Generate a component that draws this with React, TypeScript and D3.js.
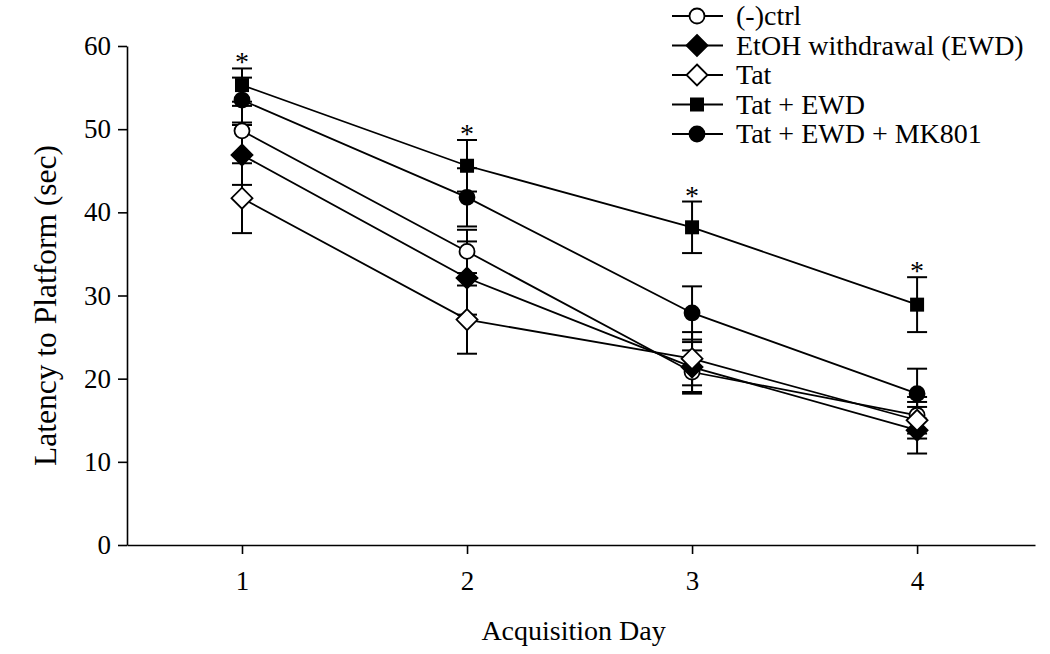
import React, { useEffect, useRef } from "react";
import * as d3 from "d3";

const days = [1, 2, 3, 4];
const dayTicks = ["1", "2", "3", "4"];
const yTicks = [0, 10, 20, 30, 40, 50, 60];

const ctrlMean = [49.8, 35.3, 20.8, 15.6];
const ctrlErr = [3.0, 2.6, 2.6, 2.2];
const ewdMean = [46.9, 32.1, 21.4, 13.8];
const ewdErr = [3.6, 4.4, 3.0, 2.8];
const tatMean = [41.7, 27.1, 22.4, 15.0];
const tatErr = [4.2, 4.1, 3.2, 2.2];
const tatEwdMean = [55.3, 45.6, 38.2, 28.9];
const tatEwdErr = [2.0, 3.1, 3.1, 3.3];
const mkMean = [53.5, 41.8, 27.9, 18.2];
const mkErr = [2.7, 3.5, 3.2, 3.0];

const significantDays = [1, 2, 3, 4];

type Marker = "openCircle" | "filledDiamond" | "openDiamond" | "filledSquare" | "filledCircle";

const seriesNames = ["(-)ctrl", "EtOH withdrawal (EWD)", "Tat", "Tat + EWD", "Tat + EWD + MK801"];
const seriesMarkers: Marker[] = ["openCircle", "filledDiamond", "openDiamond", "filledSquare", "filledCircle"];
const seriesMeans = [ctrlMean, ewdMean, tatMean, tatEwdMean, mkMean];
const seriesErrs = [ctrlErr, ewdErr, tatErr, tatEwdErr, mkErr];

const FONT = "'Liberation Serif', 'Times New Roman', serif";

function drawMarker(g: any, type: Marker, cx: number, cy: number) {
  if (type === "openCircle" || type === "filledCircle") {
    g.append("circle")
      .attr("cx", cx).attr("cy", cy).attr("r", 7.5)
      .attr("fill", type === "openCircle" ? "#fff" : "#000")
      .attr("stroke", "#000").attr("stroke-width", 1.8);
  } else if (type === "filledSquare") {
    g.append("rect")
      .attr("x", cx - 7).attr("y", cy - 7).attr("width", 14).attr("height", 14)
      .attr("fill", "#000");
  } else {
    const s = 10.5;
    g.append("path")
      .attr("d", `M${cx},${cy - s}L${cx + s},${cy}L${cx},${cy + s}L${cx - s},${cy}Z`)
      .attr("fill", type === "openDiamond" ? "#fff" : "#000")
      .attr("stroke", "#000").attr("stroke-width", 1.8).attr("stroke-linejoin", "miter");
  }
}

export default function App() {
  const ref = useRef<SVGSVGElement>(null);

  useEffect(() => {
    const svg = d3.select(ref.current);
    svg.selectAll("*").remove();

    const x = d3.scaleLinear().domain([0.489, 4.524]).range([127, 1035]);
    const y = d3.scaleLinear().domain([0, 60]).range([545, 46]);

    // axes
    const yAxis = d3.axisLeft(y).tickValues(yTicks).tickSize(9).tickSizeOuter(0).tickPadding(7);
    const gy = svg.append("g").attr("transform", `translate(${x.range()[0]},0)`).call(yAxis);
    const xAxis = d3.axisBottom(x).tickValues(days).tickFormat((d, i) => dayTicks[i]).tickSize(9).tickSizeOuter(0).tickPadding(17);
    const gx = svg.append("g").attr("transform", `translate(0,${y(0)})`).call(xAxis);
    [gx, gy].forEach((g) => {
      g.selectAll("path,line").attr("stroke", "#000").attr("stroke-width", 1.6);
      g.selectAll("text").attr("font-family", FONT).attr("font-size", 27).attr("fill", "#000");
    });

    // axis titles
    svg.append("text")
      .attr("x", (x(1) + x(4)) / 2 - 6).attr("y", 640)
      .attr("text-anchor", "middle").attr("font-family", FONT).attr("font-size", 28)
      .text("Acquisition Day");
    svg.append("text")
      .attr("transform", `translate(56,${(y(0) + y(60)) / 2 + 10}) rotate(-90)`)
      .attr("text-anchor", "middle").attr("font-family", FONT).attr("font-size", 31.5)
      .text("Latency to Platform (sec)");

    const plot = svg.append("g");
    const line = d3.line<number>().x((_, i) => x(days[i])).y((d) => y(d));

    // lines
    seriesMeans.forEach((m) => {
      plot.append("path").attr("d", line(m) as string)
        .attr("fill", "none").attr("stroke", "#000").attr("stroke-width", 1.8);
    });

    // error bars
    const capW = 10;
    seriesMeans.forEach((m, si) => {
      m.forEach((v, i) => {
        const e = seriesErrs[si][i];
        const cx = x(days[i]);
        const top = y(v + e);
        const bot = y(v - e);
        plot.append("line").attr("x1", cx).attr("x2", cx).attr("y1", top).attr("y2", bot)
          .attr("stroke", "#000").attr("stroke-width", 2);
        [top, bot].forEach((yy) => {
          plot.append("line").attr("x1", cx - capW).attr("x2", cx + capW).attr("y1", yy).attr("y2", yy)
            .attr("stroke", "#000").attr("stroke-width", 2);
        });
      });
    });

    // markers
    seriesMeans.forEach((m, si) => {
      m.forEach((v, i) => drawMarker(plot, seriesMarkers[si], x(days[i]), y(v)));
    });

    // significance asterisks
    significantDays.forEach((d) => {
      const i = days.indexOf(d);
      const top = y(tatEwdMean[i] + tatEwdErr[i]);
      plot.append("text").attr("x", x(d)).attr("y", top + 3)
        .attr("text-anchor", "middle").attr("font-family", FONT).attr("font-size", 28)
        .text("*");
    });

    // legend
    const lg = svg.append("g");
    const lx0 = 672, lx1 = 723, lmx = 697, ltx = 736;
    seriesNames.forEach((name, i) => {
      const ly = 16 + i * 29.5;
      lg.append("line").attr("x1", lx0).attr("x2", lx1).attr("y1", ly).attr("y2", ly)
        .attr("stroke", "#000").attr("stroke-width", 1.8);
      drawMarker(lg, seriesMarkers[i], lmx, ly);
      lg.append("text").attr("x", ltx).attr("y", ly + 9)
        .attr("font-family", FONT).attr("font-size", 28).text(name);
    });
  }, []);

  return (
    <svg
      ref={ref}
      width={1050}
      height={654}
      style={{ position: "absolute", left: 0, top: 0, background: "#fff" }}
    />
  );
}
